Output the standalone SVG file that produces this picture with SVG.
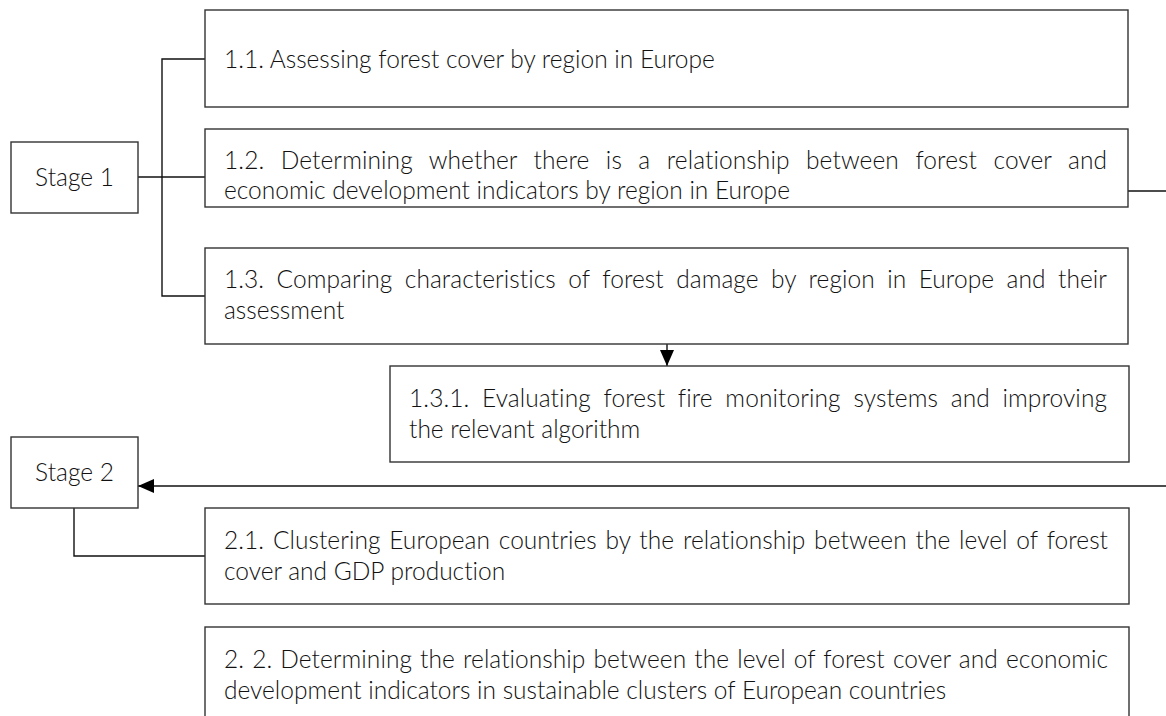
<svg xmlns="http://www.w3.org/2000/svg" width="1166" height="716" viewBox="0 0 1166 716">
<defs>
<style>
.box{fill:#fff;stroke:#333;stroke-width:1.4}
.t{font-family:Lato,"Noto Sans",sans-serif;font-size:24.5px;font-weight:300;fill:#111;font-variant-ligatures:none}
.c{text-anchor:middle}
.ln{fill:none;stroke:#111;stroke-width:1.4}
</style>
<marker id="ah" viewBox="0 0 16 14" markerWidth="16" markerHeight="14" refX="16" refY="7" orient="auto" markerUnits="userSpaceOnUse">
<path d="M0,0 L16,7 L0,14 z" fill="#000"/>
</marker>
</defs>
<rect width="1166" height="716" fill="#fff"/>
<g id="connectors">
<path class="ln" d="M138,177 H205"/>
<path class="ln" d="M207,59 H162 V296 H205"/>
<path class="ln" d="M667,344 V366" marker-end="url(#ah)"/>
<path class="ln" d="M1128,191 H1166"/>
<path class="ln" d="M1166,486 H138" marker-end="url(#ah)"/>
<path class="ln" d="M74,508 V556 H205"/>
</g>
<g id="stage1">
<rect class="box" x="11" y="142" width="127" height="71"/>
<text class="t c" x="74.5" y="186">Stage 1</text>
</g>
<g id="n11">
<rect class="box" x="205" y="10" width="923" height="97"/>
<text class="t" x="224" y="68">1.1. Assessing forest cover by region in Europe</text>
</g>
<g id="n12">
<rect class="box" x="205" y="129" width="923" height="78"/>
<text class="t" x="224" y="169" word-spacing="9.7" textLength="883" lengthAdjust="spacing">1.2. Determining whether there is a relationship between forest cover and</text>
<text class="t" x="224" y="199">economic development indicators by region in Europe</text>
</g>
<g id="n13">
<rect class="box" x="205" y="248" width="923" height="96"/>
<text class="t" x="224" y="288" word-spacing="5.8" textLength="883" lengthAdjust="spacing">1.3. Comparing characteristics of forest damage by region in Europe and their</text>
<text class="t" x="224" y="319">assessment</text>
</g>
<g id="n131">
<rect class="box" x="390" y="366" width="739" height="96"/>
<text class="t" x="409" y="407" word-spacing="5.9" textLength="698" lengthAdjust="spacing">1.3.1. Evaluating forest fire monitoring systems and improving</text>
<text class="t" x="409" y="438">the relevant algorithm</text>
</g>
<g id="stage2">
<rect class="box" x="11" y="437" width="127" height="71"/>
<text class="t c" x="74.5" y="481">Stage 2</text>
</g>
<g id="n21">
<rect class="box" x="205" y="508" width="924" height="96"/>
<text class="t" x="224" y="549" word-spacing="2.1" textLength="884" lengthAdjust="spacing">2.1. Clustering European countries by the relationship between the level of forest</text>
<text class="t" x="224" y="580">cover and GDP production</text>
</g>
<g id="n22">
<rect class="box" x="205" y="627" width="924" height="120"/>
<text class="t" x="224" y="668" word-spacing="1.4" textLength="884" lengthAdjust="spacing">2. 2. Determining the relationship between the level of forest cover and economic</text>
<text class="t" x="224" y="699">development indicators in sustainable clusters of European countries</text>
</g>
</svg>
